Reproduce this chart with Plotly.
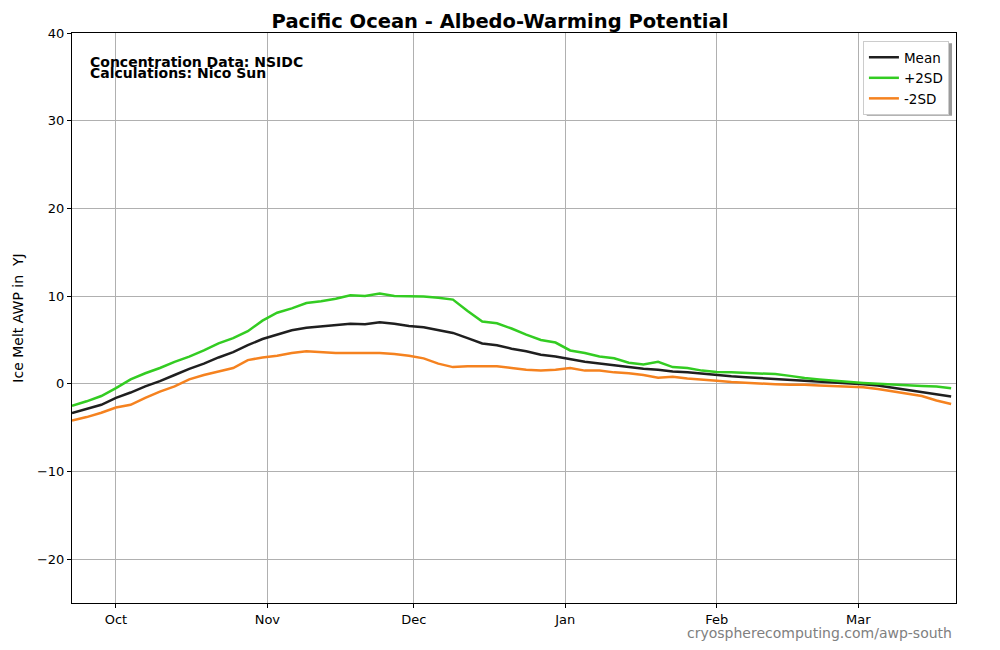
import datetime as dt
import plotly.graph_objects as go

start = dt.date(2023, 9, 22)
day_offsets = list(range(0, 181, 3))
dates = [start + dt.timedelta(days=d) for d in day_offsets]

mean_vals = [-3.35, -2.9, -2.4, -1.6, -1.0, -0.3, 0.3, 1.0, 1.7, 2.3,
             3.0, 3.6, 4.4, 5.1, 5.6, 6.1, 6.4, 6.55, 6.7, 6.85,
             6.8, 7.0, 6.85, 6.6, 6.45, 6.1, 5.8, 5.2, 4.6, 4.4,
             4.0, 3.7, 3.3, 3.1, 2.8, 2.5, 2.3, 2.1, 1.9, 1.7,
             1.6, 1.4, 1.3, 1.15, 0.95, 0.85, 0.75, 0.65, 0.6, 0.5,
             0.35, 0.25, 0.15, 0.05, -0.05, -0.2, -0.45, -0.7, -0.95, -1.2,
             -1.45]
plus2sd = [-2.5, -2.0, -1.4, -0.5, 0.5, 1.2, 1.8, 2.5, 3.1, 3.8,
           4.6, 5.2, 6.0, 7.2, 8.1, 8.6, 9.2, 9.4, 9.7, 10.1,
           10.0, 10.3, 10.0, 9.95, 9.95, 9.8, 9.6, 8.3, 7.1, 6.9,
           6.3, 5.6, 5.0, 4.7, 3.8, 3.5, 3.1, 2.9, 2.4, 2.2,
           2.5, 1.9, 1.8, 1.5, 1.35, 1.3, 1.25, 1.15, 1.1, 0.9,
           0.65, 0.5, 0.35, 0.2, 0.1, 0.0, -0.1, -0.15, -0.25, -0.3,
           -0.5]
minus2sd = [-4.2, -3.8, -3.3, -2.7, -2.4, -1.6, -0.9, -0.3, 0.5, 1.0,
            1.4, 1.8, 2.7, 3.0, 3.2, 3.5, 3.7, 3.6, 3.5, 3.5,
            3.5, 3.5, 3.4, 3.2, 2.9, 2.3, 1.9, 2.0, 2.0, 2.0,
            1.8, 1.6, 1.5, 1.6, 1.8, 1.5, 1.5, 1.3, 1.2, 1.0,
            0.7, 0.8, 0.6, 0.5, 0.35, 0.2, 0.1, 0.05, -0.05, -0.1,
            -0.1, -0.2, -0.25, -0.3, -0.4, -0.6, -0.85, -1.1, -1.4, -1.9,
            -2.3]

series = [("Mean", mean_vals, "#1f1f1f"),
          ("+2SD", plus2sd, "#33cc22"),
          ("-2SD", minus2sd, "#f5821f")]

FONT = "DejaVu Sans"
fig = go.Figure()
for name, vals, color in series:
    fig.add_trace(go.Scatter(x=dates, y=vals, name=name, mode="lines",
                             line=dict(color=color, width=2.5)))

fig.update_layout(
    width=1000, height=650,
    margin=dict(l=64, r=52, t=25, b=55),
    paper_bgcolor="white", plot_bgcolor="white",
    font=dict(family=FONT, size=13, color="black"),
    title=dict(text="<b>Pacific Ocean - Albedo-Warming Potential</b>",
               x=0.492, xref="container", xanchor="center", y=1 - 13 / 650,
               yref="container", yanchor="middle", font=dict(size=19.5, family=FONT)),
    showlegend=True,
    legend=dict(x=0.992, y=0.986, xanchor="right", yanchor="top",
                bgcolor="white", bordercolor="#cccccc", borderwidth=1,
                font=dict(size=13.5, family=FONT), tracegroupgap=2),
    xaxis=dict(range=[dt.date(2023, 9, 22), dt.date(2024, 3, 21)],
               tick0="2023-10-01", dtick="M1", tickformat="%b",
               showgrid=True, gridcolor="#b0b0b0", gridwidth=1,
               showline=True, linecolor="black", linewidth=1, mirror=True,
               ticks="outside", ticklen=4, tickcolor="black", zeroline=False,
               tickfont=dict(size=13), automargin=False),
    yaxis=dict(range=[-25, 40], tickvals=[-20, -10, 0, 10, 20, 30, 40],
               showgrid=True, gridcolor="#b0b0b0", gridwidth=1,
               showline=True, linecolor="black", linewidth=1, mirror=True,
               ticks="outside", ticklen=4, tickcolor="black", zeroline=False,
               tickfont=dict(size=13), automargin=False,
               title=dict(text="Ice Melt AWP in  YJ", font=dict(size=14), standoff=10)),
)

# legend drop shadow
fig.add_shape(type="rect", xref="paper", yref="paper",
              x0=0.899, x1=0.9955, y0=0.855, y1=0.982,
              fillcolor="#9a9a9a", line=dict(width=0), layer="above")

fig.add_annotation(text="<b>Concentration Data: NSIDC</b>", xref="paper", yref="paper",
                   x=0.018, y=0.949, xanchor="left", yanchor="middle", showarrow=False,
                   font=dict(size=14, family=FONT))
fig.add_annotation(text="<b>Calculations: Nico Sun</b>", xref="paper", yref="paper",
                   x=0.018, y=0.929, xanchor="left", yanchor="middle", showarrow=False,
                   font=dict(size=14, family=FONT))
fig.add_annotation(text="cryospherecomputing.com/awp-south", xref="paper", yref="paper",
                   x=0.9975, y=-0.052, xanchor="right", yanchor="middle", showarrow=False,
                   font=dict(size=14, family=FONT, color="#808080"))

fig.write_html("out.html")
